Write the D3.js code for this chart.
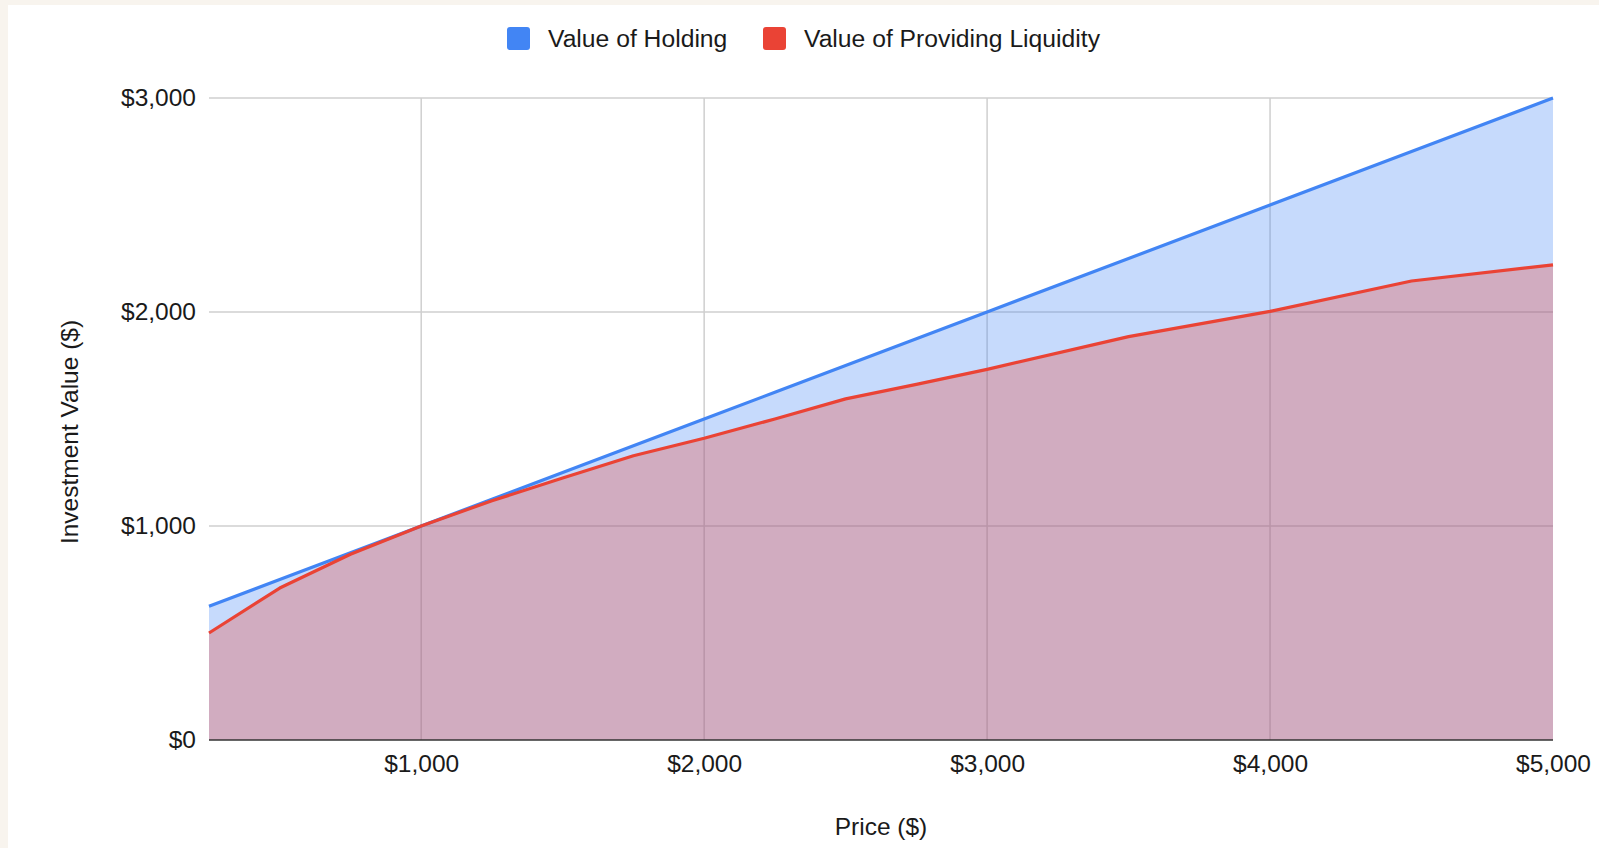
<!DOCTYPE html>
<html>
<head>
<meta charset="utf-8">
<script src="https://cdn.jsdelivr.net/npm/d3@7"></script>
<style>
  body { margin: 0; background: #f8f4ee; overflow: hidden; }
</style>
</head>
<body>
<div id="chart"></div>
<script>
document.addEventListener("DOMContentLoaded", function() {

// Data
var prices = [250, 500, 750, 1000, 1250, 1500, 1750, 2000, 2250, 2500, 2750, 3000, 3500, 4000, 4500, 5000];
var holding = [625, 750, 875, 1000, 1125, 1250, 1375, 1500, 1625, 1750, 1875, 2000, 2250, 2500, 2750, 3000];
var liquidity = [500, 710, 868, 1000, 1118, 1224, 1328, 1410, 1500, 1594, 1662, 1732, 1885, 2003, 2145, 2220];
var xTicks = [1000, 2000, 3000, 4000, 5000];
var yTicks = [0, 1000, 2000, 3000];
var seriesNames = ["Value of Holding", "Value of Providing Liquidity"];

var W = 1599, H = 848;
var margin = {top: 98, right: 46, bottom: 108, left: 209},
    width = W - margin.left - margin.right,
    height = H - margin.top - margin.bottom;

var font = "Liberation Sans, Arial, sans-serif";
var blue = "#4285f4", red = "#ea4335";

var root = d3.select("#chart")
  .append("svg")
  .attr("width", W)
  .attr("height", H);

// cream page behind, white card
root.append("rect").attr("width", W).attr("height", H).attr("fill", "#f8f4ee");
root.append("rect").attr("x", 8).attr("y", 5).attr("width", W - 8).attr("height", H - 5).attr("fill", "#ffffff");

var svg = root.append("g")
  .attr("transform", "translate(" + margin.left + "," + margin.top + ")");

var x = d3.scaleLinear()
  .domain([prices[0], 5000])
  .range([0, width]);

var y = d3.scaleLinear()
  .domain([0, 3000])
  .range([height, 0]);

var money = d3.format("$,");

// gridlines
svg.append("g")
  .selectAll("line")
  .data(yTicks.slice(1))
  .enter().append("line")
    .attr("x1", 0)
    .attr("x2", width)
    .attr("y1", function(d) { return y(d); })
    .attr("y2", function(d) { return y(d); })
    .attr("stroke", "#cfcfcf")
    .attr("stroke-width", 1.5);

svg.append("g")
  .selectAll("line")
  .data(xTicks.slice(0, -1))
  .enter().append("line")
    .attr("x1", function(d) { return x(d); })
    .attr("x2", function(d) { return x(d); })
    .attr("y1", 0)
    .attr("y2", height)
    .attr("stroke", "#cfcfcf")
    .attr("stroke-width", 1.5);

// areas
var rows = prices.map(function(p, i) { return {p: p, h: holding[i], l: liquidity[i]}; });

var areaH = d3.area()
  .x(function(d) { return x(d.p); })
  .y0(height)
  .y1(function(d) { return y(d.h); });

var areaL = d3.area()
  .x(function(d) { return x(d.p); })
  .y0(height)
  .y1(function(d) { return y(d.l); });

svg.append("path")
  .datum(rows)
  .attr("d", areaH)
  .attr("fill", blue)
  .attr("fill-opacity", 0.3);

svg.append("path")
  .datum(rows)
  .attr("d", areaL)
  .attr("fill", red)
  .attr("fill-opacity", 0.3);

// lines
var lineH = d3.line()
  .x(function(d) { return x(d.p); })
  .y(function(d) { return y(d.h); });

var lineL = d3.line()
  .x(function(d) { return x(d.p); })
  .y(function(d) { return y(d.l); });

svg.append("path")
  .datum(rows)
  .attr("d", lineH)
  .attr("fill", "none")
  .attr("stroke", blue)
  .attr("stroke-width", 3.2)
  .attr("stroke-linejoin", "round");

svg.append("path")
  .datum(rows)
  .attr("d", lineL)
  .attr("fill", "none")
  .attr("stroke", red)
  .attr("stroke-width", 3.2)
  .attr("stroke-linejoin", "round");

// baseline
svg.append("line")
  .attr("x1", 0)
  .attr("x2", width)
  .attr("y1", y(0))
  .attr("y2", y(0))
  .attr("stroke", "#333333")
  .attr("stroke-width", 1.5);

// axes (labels only)
var xAxis = svg.append("g")
  .attr("transform", "translate(0," + height + ")")
  .call(d3.axisBottom(x).tickValues(xTicks).tickFormat(money).tickSize(0).tickPadding(15));
xAxis.select(".domain").remove();
xAxis.selectAll("text")
  .style("font-size", "24.5px")
  .style("font-family", font)
  .attr("fill", "#1a1a1a");

var yAxis = svg.append("g")
  .call(d3.axisLeft(y).tickValues(yTicks).tickFormat(money).tickSize(0).tickPadding(13));
yAxis.select(".domain").remove();
yAxis.selectAll("text")
  .style("font-size", "24.5px")
  .style("font-family", font)
  .attr("fill", "#1a1a1a");

// axis titles
root.append("text")
  .attr("x", 881)
  .attr("y", 826)
  .attr("dy", "0.35em")
  .attr("text-anchor", "middle")
  .text("Price ($)")
  .style("font-size", "24.5px")
  .style("font-family", font)
  .attr("fill", "#1a1a1a");

root.append("text")
  .attr("transform", "translate(69,432) rotate(-90)")
  .attr("dy", "0.35em")
  .attr("text-anchor", "middle")
  .text("Investment Value ($)")
  .style("font-size", "24.5px")
  .style("font-family", font)
  .attr("fill", "#1a1a1a");

// legend
var legendX = [507, 763];
var legend = root.append("g")
  .selectAll("g")
  .data(seriesNames)
  .enter().append("g")
  .attr("transform", function(d, i) { return "translate(" + legendX[i] + ",27)"; });

legend.append("rect")
  .attr("width", 23)
  .attr("height", 23)
  .attr("rx", 3)
  .attr("fill", function(d, i) { return i === 0 ? blue : red; });

legend.append("text")
  .attr("x", 41)
  .attr("y", 11)
  .attr("dy", "0.35em")
  .text(function(d) { return d; })
  .style("font-size", "24.7px")
  .style("font-family", font)
  .attr("fill", "#1a1a1a");

});
</script>
</body>
</html>
